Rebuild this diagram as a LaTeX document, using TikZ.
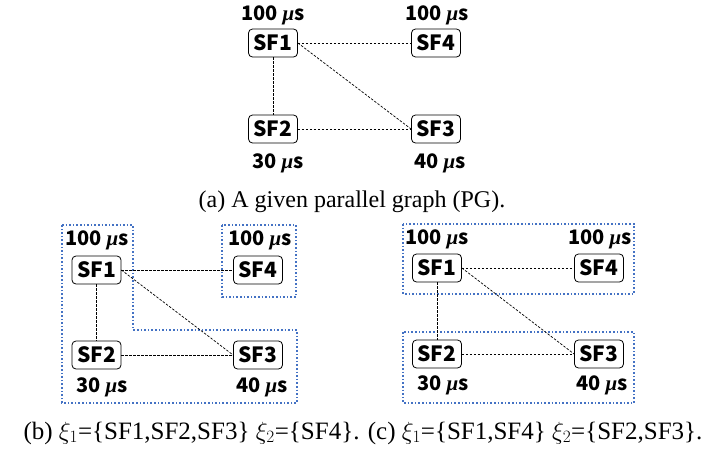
\documentclass[tikz,border=0pt]{standalone}
\usepackage{fontspec}
\setmainfont{Liberation Serif}
\newfontfamily\cjk{Noto Sans CJK SC}
\newcommand\usmark{{\rmfamily\bfseries\itshape\fontsize{21}{20}\selectfont μ}s}
\tikzset{
  sf/.style={draw=black, line width=0.8pt, rounded corners=4pt, minimum width=49pt, minimum height=28pt, inner sep=0pt, font=\cjk\bfseries\fontsize{21}{20}\selectfont},
  lab/.style={inner sep=0pt, font=\cjk\bfseries\fontsize{20}{20}\selectfont},
  edge/.style={line width=0.7pt, dash pattern=on 2.5pt off 1.5pt},
  grp/.style={draw={rgb,255:red,68;green,114;blue,196}, line width=1.6pt, dotted},
  captext/.style={inner sep=0pt, font=\fontsize{24}{26}\selectfont}
}
\begin{document}
\begin{tikzpicture}[x=1pt,y=-1pt]
\useasboundingbox (0,0) rectangle (710,455);
% (a)
\node[sf] (a1) at (273,43) {SF1};
\node[sf] (a4) at (436,43) {SF4};
\node[sf] (a2) at (273,129) {SF2};
\node[sf] (a3) at (436,129) {SF3};
\node[lab] (la1) at (273,15) {100 \usmark};
\node[lab] (la4) at (437,15) {100 \usmark};
\node[lab] (la2) at (278,163) {30 \usmark};
\node[lab] (la3) at (440,163) {40 \usmark};
\draw[edge] (a1) -- (a4);
\draw[edge] (a1) -- (a2);
\draw[edge] (a2) -- (a3);
\draw[edge] (a1.east) -- (a3.west);
\node[captext] (capa) at (352,202) {(a) A given parallel graph (PG).};
% (b)
\draw[grp] (62,225) -- (133,225) -- (133,330) -- (297,330) -- (297,403) -- (62,403) -- cycle;
\draw[grp] (222,225) rectangle (296,297);
\node[sf] (b1) at (96.5,270) {SF1};
\node[sf] (b4) at (258,270) {SF4};
\node[sf] (b2) at (96.5,355) {SF2};
\node[sf] (b3) at (258,355) {SF3};
\node[lab] (lb1) at (97,240) {100 \usmark};
\node[lab] (lb4) at (260,240) {100 \usmark};
\node[lab] (lb2) at (102,387) {30 \usmark};
\node[lab] (lb3) at (262,387) {40 \usmark};
\draw[edge] (b1) -- (b4);
\draw[edge] (b1) -- (b2);
\draw[edge] (b2) -- (b3);
\draw[edge] (b1.east) -- (b3.west);
% (c)
\draw[grp] (403,224) rectangle (634,294);
\draw[grp] (403,332) rectangle (634,403);
\node[sf] (c1) at (437,268) {SF1};
\node[sf] (c4) at (599,268) {SF4};
\node[sf] (c2) at (437,354) {SF2};
\node[sf] (c3) at (599,354) {SF3};
\node[lab] (lc1) at (437,239) {100 \usmark};
\node[lab] (lc4) at (600,239) {100 \usmark};
\node[lab] (lc2) at (443,385) {30 \usmark};
\node[lab] (lc3) at (602,385) {40 \usmark};
\draw[edge] (c1) -- (c4);
\draw[edge] (c1) -- (c2);
\draw[edge] (c2) -- (c3);
\draw[edge] (c1.east) -- (c3.west);
\node[captext, font=\fontsize{25}{27}\selectfont] (capbc) at (363,433) {(b) $\xi_1$=\{SF1,SF2,SF3\} $\xi_2$=\{SF4\}. (c) $\xi_1$=\{SF1,SF4\} $\xi_2$=\{SF2,SF3\}.};
\end{tikzpicture}
\end{document}
